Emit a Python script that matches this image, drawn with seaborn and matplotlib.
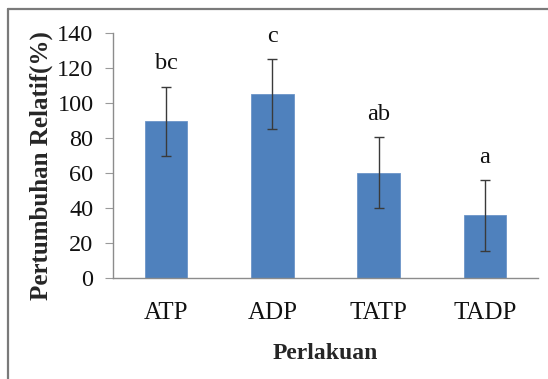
import matplotlib
matplotlib.use("Agg")
import matplotlib.pyplot as plt
from matplotlib.lines import Line2D
import seaborn as sns
import pandas as pd

# Treatments, mean relative growth (%), standard deviation and significance letters
perlakuan = ["ATP", "ADP", "TATP", "TADP"]
pertumbuhan = [89.5, 105.0, 60.2, 35.8]
sd = [19.8, 20.0, 20.2, 20.1]
notasi = ["bc", "c", "ab", "a"]

df = pd.DataFrame({"Perlakuan": perlakuan, "Pertumbuhan": pertumbuhan})

sns.set_style("white")
plt.rcParams["font.family"] = ["Liberation Serif", "DejaVu Serif"]

fig = plt.figure(figsize=(5.48, 3.79), dpi=100)
ax = fig.add_axes([0.2062, 0.2665, 0.7756, 0.6464])

bar_color = "#4F81BD"
sns.barplot(data=df, x="Perlakuan", y="Pertumbuhan", color=bar_color,
            width=0.4, errorbar=None, saturation=1, ax=ax,
            edgecolor="#6C95C8", linewidth=0.6)

xs = range(len(perlakuan))
ax.errorbar(xs, pertumbuhan, yerr=sd, fmt="none", ecolor="#3a3a3a",
            elinewidth=1.0, capsize=3.5, capthick=1.0, zorder=3)

for x, m, s, lab in zip(xs, pertumbuhan, sd, notasi):
    ax.text(x, m + s + 10, lab, ha="center", va="baseline", fontsize=17.5,
            color="#111111")

ax.set_xlim(-0.5, len(perlakuan) - 0.5)
ax.set_ylim(0, 140)
ax.set_yticks(range(0, 141, 20))
ax.tick_params(axis="y", labelsize=17.5, length=6, width=0.8, color="#9a9a9a",
               direction="out", left=True, pad=8, labelcolor="#111111")
ax.tick_params(axis="x", labelsize=18, length=0, pad=17, labelcolor="#111111")

for side in ("top", "right"):
    ax.spines[side].set_visible(False)
for side in ("left", "bottom"):
    ax.spines[side].set_color("#8c8c8c")
    ax.spines[side].set_linewidth(1.0)

ax.set_xlabel("Perlakuan", fontsize=17, fontweight="bold", labelpad=14)
ax.set_ylabel("Pertumbuhan Relatif(%)", fontsize=18, fontweight="bold")
ax.yaxis.set_label_coords(-0.141, 0.457)

# Outer chart frame (top and left edges visible in the canvas)
W, H = 548, 379
fig.add_artist(Line2D([8 / W, 1.0], [1 - 9 / H, 1 - 9 / H],
                      transform=fig.transFigure, color="#7a7a7a", lw=1.6))
fig.add_artist(Line2D([8 / W, 8 / W], [0.0, 1 - 9 / H],
                      transform=fig.transFigure, color="#7a7a7a", lw=1.6))

fig.savefig("out.png", dpi=100)
